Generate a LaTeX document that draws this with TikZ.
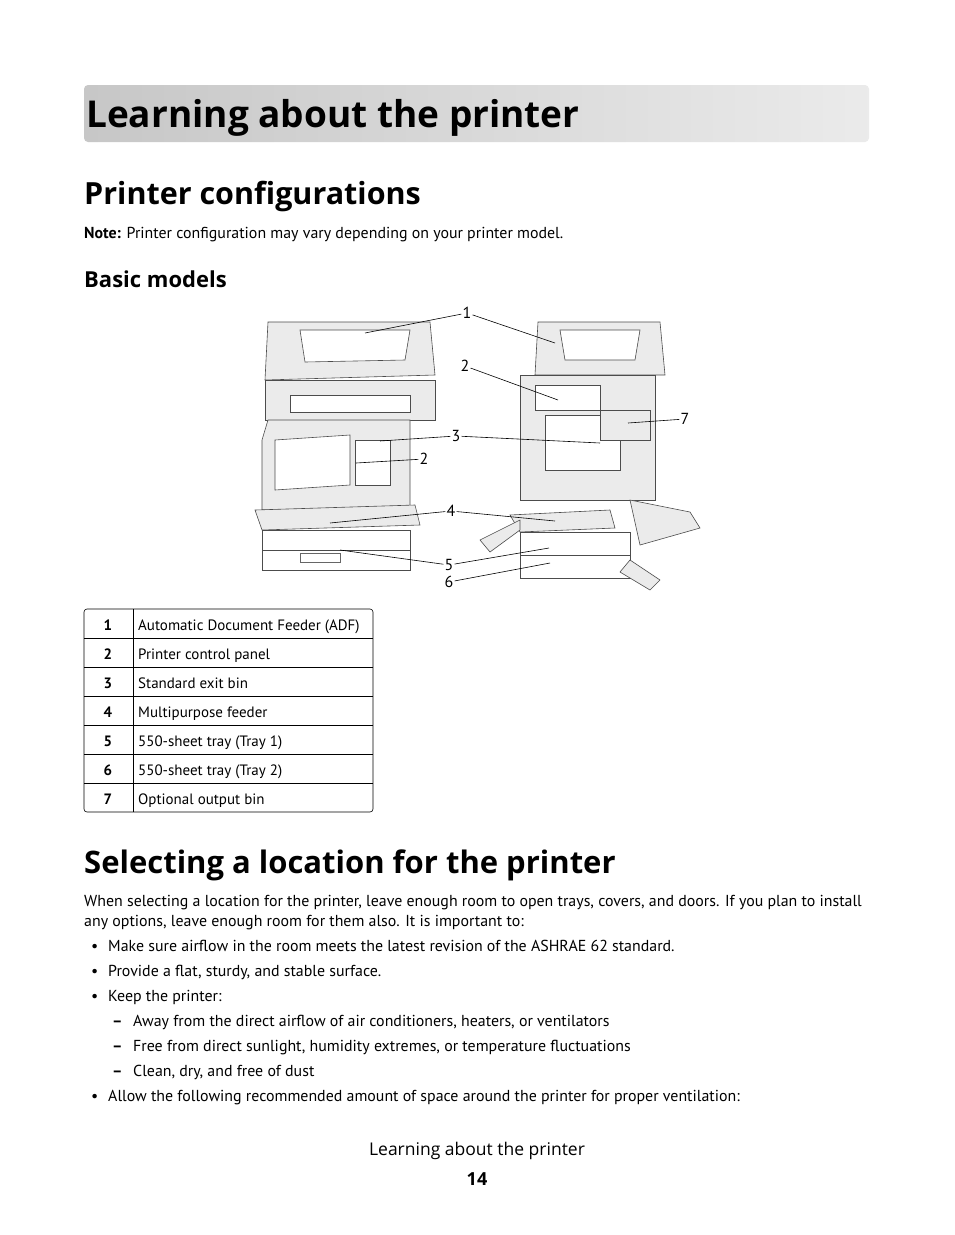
\documentclass[tikz,border=0pt]{standalone}
\usepackage{fontspec}
\setmainfont{PT Sans}
\newfontfamily\headfont{Open Sans}
\usetikzlibrary{positioning}
\tikzset{
  body/.style={anchor=base west, inner sep=0pt, font=\fontsize{15.9}{18}\selectfont},
  callout/.style={inner sep=1pt, font=\fontsize{16}{18}\selectfont},
  leader/.style={draw=black, line width=0.6pt},
  part/.style={draw=black!70, fill=black!8, line width=0.6pt},
  partw/.style={draw=black!70, fill=white, line width=0.6pt},
  cell/.style={anchor=base west, inner sep=0pt, font=\fontsize{15}{17}\selectfont}
}
\begin{document}
\begin{tikzpicture}[x=1pt,y=-1pt]
  \useasboundingbox (0,0) rectangle (954,1235);
  \fill[white] (0,0) rectangle (954,1235);

  % Title bar
  \shade[left color=black!22, right color=black!8, rounded corners=4pt] (84,85) rectangle (869,142);
  \node[anchor=base west, inner sep=0pt, font=\headfont\bfseries\fontsize{37}{42}\selectfont] (title) at (86,127) {Learning about the printer};

  % Headings and note
  \node[anchor=base west, inner sep=0pt, font=\headfont\bfseries\fontsize{30.5}{34}\selectfont] (conf) at (84,204) {Printer configurations};
  \node[body] (note) at (84,238) {\textbf{Note:} Printer configuration may vary depending on your printer model.};
  \node[anchor=base west, inner sep=0pt, font=\headfont\bfseries\fontsize{22}{26}\selectfont] (basic) at (84,287) {Basic models};

  % Left printer
  \draw[part] (268,322) -- (430,322) -- (435,375) -- (265,380) -- cycle;
  \draw[partw] (300,330) -- (410,330) -- (405,360) -- (305,362) -- cycle;
  \draw[part] (265,380) rectangle (435,420);
  \draw[partw] (290,395) rectangle (410,412);
  \draw[part] (268,420) -- (410,420) -- (410,510) -- (262,510) -- (262,440) -- cycle;
  \draw[partw] (275,440) -- (350,435) -- (350,485) -- (275,490) -- cycle;
  \draw[partw] (355,440) rectangle (390,485);
  \draw[part] (255,510) -- (415,505) -- (420,525) -- (262,530) -- cycle;
  \draw[partw] (262,530) rectangle (410,550);
  \draw[partw] (262,550) rectangle (410,570);
  \draw[black!60] (300,553) rectangle (340,562);

  % Right printer
  \draw[part] (538,322) -- (660,322) -- (665,375) -- (535,375) -- cycle;
  \draw[partw] (560,330) -- (640,330) -- (635,360) -- (565,360) -- cycle;
  \draw[part] (520,375) rectangle (655,500);
  \draw[partw] (535,385) rectangle (600,410);
  \draw[partw] (545,415) rectangle (620,470);
  \draw[part] (600,410) rectangle (650,440);
  \draw[part] (510,515) -- (610,510) -- (615,528) -- (520,532) -- cycle;
  \draw[partw] (520,532) rectangle (630,555);
  \draw[partw] (520,555) rectangle (630,578);
  \draw[part] (480,540) -- (520,520) -- (520,530) -- (490,552) -- cycle;
  \draw[part] (630,500) -- (690,512) -- (700,528) -- (640,545) -- cycle;
  \draw[part] (630,560) -- (660,580) -- (650,590) -- (620,572) -- cycle;

  % Callout labels
  \node[callout] (n1) at (467,313) {1};
  \node[callout] (n2r) at (465,366) {2};
  \node[callout] (n7) at (685,419) {7};
  \node[callout] (n3) at (456,436) {3};
  \node[callout] (n2l) at (424,459) {2};
  \node[callout] (n4) at (451,511) {4};
  \node[callout] (n5) at (449,565) {5};
  \node[callout] (n6) at (449,582) {6};

  % Callout targets
  \coordinate (adfL) at (365,333);
  \coordinate (adfR) at (555,343);
  \coordinate (panR) at (558,400);
  \coordinate (binO) at (628,423);
  \coordinate (binL) at (380,441);
  \coordinate (binR) at (600,443);
  \coordinate (panL) at (356,463);
  \coordinate (mpfL) at (330,523);
  \coordinate (mpfR) at (555,521);
  \coordinate (tr1L) at (340,550);
  \coordinate (tr1R) at (549,548);
  \coordinate (tr2R) at (550,563);

  \draw[leader] (n1) -- (adfL);
  \draw[leader] (n1) -- (adfR);
  \draw[leader] (n2r) -- (panR);
  \draw[leader] (n7) -- (binO);
  \draw[leader] (n3) -- (binL);
  \draw[leader] (n3) -- (binR);
  \draw[leader] (n2l) -- (panL);
  \draw[leader] (n4) -- (mpfL);
  \draw[leader] (n4) -- (mpfR);
  \draw[leader] (n5) -- (tr1L);
  \draw[leader] (n5) -- (tr1R);
  \draw[leader] (n6) -- (tr2R);

  % Table
  \draw[black, line width=0.6pt, rounded corners=3pt] (84,609) rectangle (373,812);
  \foreach \r in {1,...,6} {
    \draw[black, line width=0.6pt] (84,609+29*\r) -- (373,609+29*\r);
  }
  \draw[black, line width=0.6pt] (133,609) -- (133,812);
  \foreach \n/\t [count=\i from 0] in {1/Automatic Document Feeder (ADF), 2/Printer control panel,
      3/Standard exit bin, 4/Multipurpose feeder, 5/550-sheet tray (Tray 1),
      6/550-sheet tray (Tray 2), 7/Optional output bin} {
    \node[anchor=base, inner sep=0pt, font=\bfseries\fontsize{15}{17}\selectfont] (num\n) at (108,630+29*\i) {\n};
    \node[cell] (txt\n) at (138,630+29*\i) {\t};
  }

  % Second section
  \node[anchor=base west, inner sep=0pt, font=\headfont\bfseries\fontsize{31}{35}\selectfont] (sel) at (84,873) {Selecting a location for the printer};
  \node[body] (p1) at (84,906) {When selecting a location for the printer, leave enough room to open trays, covers, and doors. If you plan to install};
  \node[body] (p2) at (84,926) {any options, leave enough room for them also. It is important to:};
  \foreach \y/\t in {951/Make sure airflow in the room meets the latest revision of the ASHRAE 62 standard.,
      976/{Provide a flat, sturdy, and stable surface.}, 1001/Keep the printer:,
      1101/Allow the following recommended amount of space around the printer for proper ventilation:} {
    \node[body] at (91,\y) {\textbullet};
    \node[body] at (108,\y) {\t};
  }
  \foreach \y/\t in {1026/{Away from the direct airflow of air conditioners, heaters, or ventilators},
      1051/{Free from direct sunlight, humidity extremes, or temperature fluctuations},
      1076/{Clean, dry, and free of dust}} {
    \node[body] at (112,\y) {\textbf{--}};
    \node[body] at (133,\y) {\t};
  }

  % Footer
  \node[anchor=base, inner sep=0pt, font=\headfont\fontsize{17.5}{20}\selectfont] (foot) at (477,1155) {Learning about the printer};
  \node[anchor=base, inner sep=0pt, font=\headfont\bfseries\fontsize{18}{20}\selectfont] (page) at (477,1185) {14};
\end{tikzpicture}
\end{document}
